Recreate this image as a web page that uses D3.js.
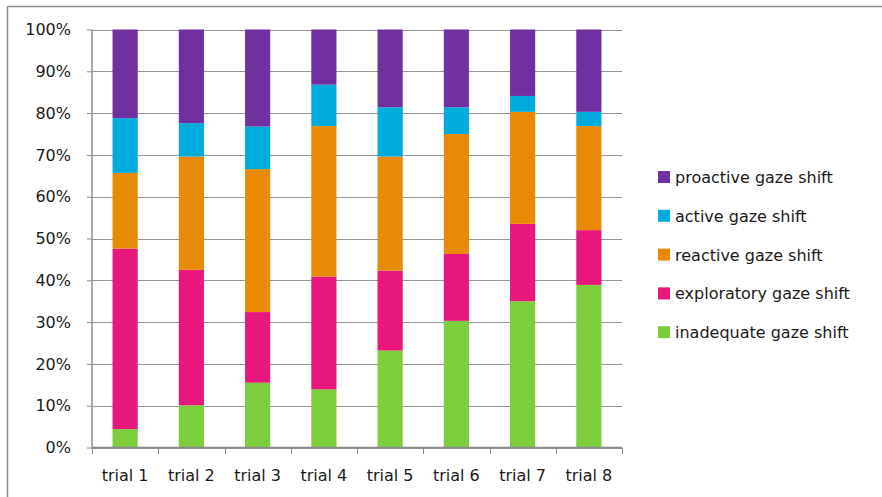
<!DOCTYPE html>
<html><head><meta charset="utf-8">
<script src="https://cdn.jsdelivr.net/npm/d3@7"></script>
<style>html,body{margin:0;padding:0;background:#fff;}svg{display:block;}</style>
</head><body>
<svg id="chart" width="882" height="497"></svg>
<script>
const categories = ["trial 1","trial 2","trial 3","trial 4","trial 5","trial 6","trial 7","trial 8"];
const inadequate  = [4.4, 10.1, 15.5, 13.9, 23.2, 30.3, 35.0, 38.9];
const exploratory = [43.2, 32.4, 16.9, 27.0, 19.1, 16.0, 18.5, 13.1];
const reactive    = [18.1, 27.1, 34.2, 36.0, 27.3, 28.7, 26.8, 24.9];
const active      = [13.1, 8.0, 10.2, 9.9, 11.8, 6.4, 3.8, 3.4];
const proactive   = [21.2, 22.4, 23.2, 13.2, 18.6, 18.6, 15.9, 19.7];
const seriesNames = ["inadequate gaze shift","exploratory gaze shift","reactive gaze shift","active gaze shift","proactive gaze shift"];
const seriesColors = ["#7dce3c","#e8177c","#e88a05","#00acdc","#7030a0"];
const yTicks = [0,10,20,30,40,50,60,70,80,90,100];

const seriesValues = [inadequate, exploratory, reactive, active, proactive];
const data = categories.map((c,i)=>{
  const o = {cat:c};
  seriesNames.forEach((s,j)=>{ o[s] = seriesValues[j][i]; });
  return o;
});
const stacked = d3.stack().keys(seriesNames).offset(d3.stackOffsetExpand)(data);

const svg = d3.select("#chart");
const font = "DejaVu Sans, Verdana, sans-serif";

// outer frame (top and left visible)
svg.append("line").attr("x1",7.5).attr("x2",882).attr("y1",6.5).attr("y2",6.5).attr("stroke","#8c8c8c").attr("stroke-width",1.5);
svg.append("line").attr("x1",7.5).attr("x2",7.5).attr("y1",6.5).attr("y2",497).attr("stroke","#8c8c8c").attr("stroke-width",1.5);

const x = d3.scaleBand().domain(categories).range([92,622]).paddingInner(0.62).paddingOuter(0.31);
const y = d3.scaleLinear().domain([0,1]).range([447.5,29.5]);

// gridlines
svg.append("g").selectAll("line").data(yTicks).join("line")
  .attr("x1",92).attr("x2",622)
  .attr("y1",d=>Math.round(y(d/100))+0.5).attr("y2",d=>Math.round(y(d/100))+0.5)
  .attr("stroke","#969696").attr("stroke-width",1);

// bars
svg.append("g").selectAll("g").data(stacked).join("g")
  .attr("fill",(d,i)=>seriesColors[i])
  .selectAll("rect").data(d=>d).join("rect")
  .attr("x",d=>x(d.data.cat))
  .attr("width",x.bandwidth())
  .attr("y",d=>y(d[1]))
  .attr("height",d=>y(d[0])-y(d[1]));

// y axis
const yAxis = d3.axisLeft(y).tickValues(yTicks.map(d=>d/100)).tickFormat(d=>Math.round(d*100)+"%").tickSize(5).tickPadding(6);
const gy = svg.append("g").attr("transform","translate(92,0)").call(yAxis);
gy.select(".domain").attr("stroke","#8c8c8c").attr("stroke-width",1.5).attr("d","M0,29.5V447.5");
gy.selectAll(".tick line").attr("stroke","#8c8c8c");
gy.selectAll(".tick text").attr("font-family",font).attr("font-size",16).attr("fill","#1a1a1a").attr("x",-21);

// x axis
const xTickPos = d3.range(categories.length+1);
const gx = svg.append("g");
gx.append("line").attr("x1",92).attr("x2",622).attr("y1",447.5).attr("y2",447.5).attr("stroke","#8c8c8c").attr("stroke-width",1.5);
gx.selectAll("line.t").data(xTickPos).join("line").attr("class","t")
  .attr("x1",i=>Math.round(92+i*x.step())+0.5).attr("x2",i=>Math.round(92+i*x.step())+0.5)
  .attr("y1",447.5).attr("y2",454).attr("stroke","#8c8c8c");
gx.selectAll("text").data(categories).join("text")
  .attr("x",d=>x(d)+x.bandwidth()/2).attr("y",481)
  .attr("text-anchor","middle").attr("font-family",font).attr("font-size",16).attr("fill","#1a1a1a")
  .text(d=>d);

// legend
const legendOrder = [4,3,2,1,0];
const lg = svg.append("g");
legendOrder.forEach((si,k)=>{
  const cy = 177 + k*38.8;
  lg.append("rect").attr("x",658).attr("y",cy-6).attr("width",12).attr("height",12).attr("fill",seriesColors[si]);
  lg.append("text").attr("x",675).attr("y",cy+6).attr("font-family",font).attr("font-size",16).attr("fill","#1a1a1a").text(seriesNames[si]);
});
</script>
</body></html>
